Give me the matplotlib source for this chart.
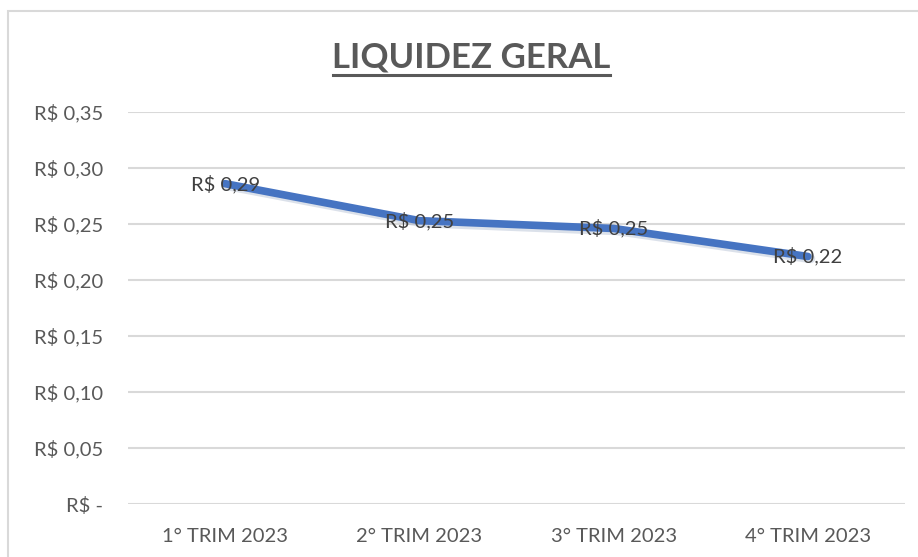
import matplotlib
matplotlib.use('Agg')
import matplotlib.pyplot as plt
from matplotlib.patches import Rectangle
from matplotlib.ticker import FuncFormatter

# data
categories = ['1° TRIM 2023', '2° TRIM 2023', '3° TRIM 2023', '4° TRIM 2023']
liquidez = [0.286, 0.253, 0.246, 0.221]
yticks = [0.0, 0.05, 0.10, 0.15, 0.20, 0.25, 0.30, 0.35]

TXT = '#595959'
LINE = '#4674C2'
plt.rcParams['font.family'] = ['Lato', 'DejaVu Sans']


def brl(v, pos=None):
    if abs(v) < 1e-9:
        return 'R$ -'
    return 'R$ ' + ('%.2f' % v).replace('.', ',')


fig = plt.figure(figsize=(9.18, 5.57), dpi=100)
ax = fig.add_axes([128 / 918, 53 / 557, 777 / 918, 392 / 557])

# chart border (only top and left edges visible in the crop)
fig.patches.append(Rectangle((8 / 918, -0.05), 1.2, (557 - 11) / 557 + 0.05,
                             transform=fig.transFigure, fill=False,
                             edgecolor='#d9d9d9', lw=1.5))

x = list(range(len(categories)))
# faint shadow under the line
ax.plot([i + 0.015 for i in x], [v - 0.002 for v in liquidez], color='#9aa9c4',
        lw=6.5, alpha=0.35, solid_capstyle='round', zorder=2)
ax.plot(x, liquidez, color=LINE, lw=5.5, solid_capstyle='round',
        solid_joinstyle='round', zorder=3)

for i, v in zip(x, liquidez):
    ax.text(i, v, brl(v), ha='center', va='center', fontsize=14.5,
            color='#404040', zorder=4)

ax.set_xlim(-0.5, len(categories) - 0.5)
ax.set_ylim(0, 0.35)
ax.set_yticks(yticks)
ax.yaxis.set_major_formatter(FuncFormatter(brl))
ax.set_xticks(x)
ax.set_xticklabels(categories)
ax.tick_params(axis='both', length=0, labelsize=14.5, labelcolor=TXT)
ax.tick_params(axis='y', pad=18)
ax.tick_params(axis='x', pad=17)
ax.grid(axis='y', color='#d9d9d9', lw=1.5)
ax.set_axisbelow(True)
for s in ax.spines.values():
    s.set_visible(False)

fig.text(471 / 918, 1 - 57 / 557, 'LIQUIDEZ GERAL', ha='center', va='center',
         fontsize=25, fontweight='bold', color=TXT)
fig.add_artist(plt.Line2D([333 / 918, 610 / 918], [1 - 75 / 557, 1 - 75 / 557],
                          color=TXT, lw=2.2, transform=fig.transFigure))

fig.savefig('out.png', dpi=100)
